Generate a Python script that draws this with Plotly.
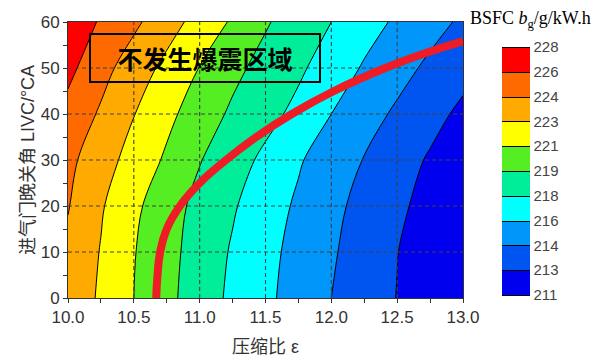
import numpy as np
import plotly.graph_objects as go

# ---------------- data ----------------
compression_ratio = [10.0, 10.25, 10.5, 10.75, 11.0, 11.25, 11.5, 11.75, 12.0, 12.25, 12.5, 12.75, 13.0]
livc_deg = [0, 10, 20, 30, 40, 50, 60]
bsfc_grid = [
    [223.7, 222.7, 221.0, 219.5, 218.5, 217.6, 216.4, 215.2, 214.0, 213.5, 212.95, 211.9, 211.1],
    [223.8, 222.9, 221.1, 219.6, 218.6, 217.8, 216.55, 215.4, 214.2, 213.6, 213.02, 212.0, 211.1],
    [224.1, 223.1, 221.4, 219.9, 218.7, 218.1, 216.9, 215.7, 214.5, 213.7, 213.2, 212.3, 211.3],
    [224.5, 223.4, 222.3, 220.7, 219.1, 218.4, 217.6, 216.2, 215.0, 213.96, 213.4, 212.8, 211.8],
    [225.4, 223.87, 223.03, 221.5, 220.0, 218.84, 218.3, 217.5, 216.0, 214.8, 213.84, 213.3, 212.6],
    [226.5, 224.7, 223.5, 222.5, 220.94, 219.5, 218.67, 218.16, 217.1, 215.8, 214.7, 213.8, 213.3],
    [227.3, 225.8, 224.4, 223.4, 222.3, 220.75, 219.2, 218.5, 218.0, 216.8, 215.7, 214.7, 213.84],
]
bsfc_levels = [211, 213, 214, 216, 218, 219, 221, 223, 224, 226, 228]
band_colors = ["#0000EE", "#0055F0", "#0096FA", "#00FFFF", "#00EE99",
               "#55EE22", "#FFFF00", "#FFAA00", "#FF6A00", "#FF0000"]

knock_cr = [10.67, 10.68, 10.70, 10.75, 10.85, 11.0, 11.20, 11.43, 11.70, 12.02, 12.41, 12.75, 13.0]
knock_livc = [0, 5, 10, 15, 20, 25, 30, 35, 40, 45, 50, 53.6, 55.8]

x_ticks = [10.0, 10.5, 11.0, 11.5, 12.0, 12.5, 13.0]
y_ticks = [0, 10, 20, 30, 40, 50, 60]

# ---------------- figure ----------------
level_idx = np.arange(len(bsfc_levels))
z_idx = np.interp(np.array(bsfc_grid), bsfc_levels, level_idx)

n = len(band_colors)
colorscale = []
for i, c in enumerate(band_colors):
    colorscale.append([i / n, c])
    colorscale.append([(i + 1) / n, c])

font_latin = "Liberation Sans, Arial, Noto Sans CJK SC"
txt = "#333333"

fig = go.Figure()
fig.add_trace(go.Contour(
    x=compression_ratio, y=livc_deg, z=z_idx,
    zmin=0, zmax=n, colorscale=colorscale,
    contours=dict(start=0, end=n, size=1, coloring="fill", showlines=True),
    line=dict(color="black", width=1, smoothing=1),
    hoverinfo="skip",
    colorbar=dict(
        x=1.0987, xanchor="left", xpad=0, y=0.46, yanchor="middle", ypad=0,
        len=0.899, lenmode="fraction", thickness=28,
        outlinewidth=0, ticks="",
        tickvals=list(level_idx), ticktext=[str(v) for v in bsfc_levels],
        tickfont=dict(family=font_latin, size=15, color="#444444"),
    ),
))

# dashed grid lines drawn above the filled contours
gx, gy = [], []
for xv in x_ticks[1:-1]:
    gx += [xv, xv, None]
    gy += [y_ticks[0], y_ticks[-1], None]
hx, hy = [], []
for yv in y_ticks[1:-1]:
    hx += [x_ticks[0], x_ticks[-1], None]
    hy += [yv, yv, None]
grid_style = dict(color="#404040", width=1.1, dash="4px,3px")
fig.add_trace(go.Scatter(x=gx, y=gy, mode="lines", line=grid_style, hoverinfo="skip",
                         connectgaps=False))
fig.add_trace(go.Scatter(x=hx, y=hy, mode="lines", line=grid_style, hoverinfo="skip",
                         connectgaps=False))

# knock boundary
fig.add_trace(go.Scatter(
    x=knock_cr, y=knock_livc, mode="lines",
    line=dict(color="#EE1C25", width=8, shape="spline", smoothing=1.3),
    hoverinfo="skip",
))

fig.add_annotation(
    x=0.347, y=0.870, xref="paper", yref="paper", xanchor="center", yanchor="middle",
    text="<b>不发生爆震区域</b>", showarrow=False,
    font=dict(family="Noto Sans CJK SC", size=25, color="black"),
    width=228, height=46, borderpad=0,
    bordercolor="black", borderwidth=2, bgcolor="rgba(0,0,0,0)",
)
fig.add_annotation(
    x=1.17, y=1.008, xref="paper", yref="paper", xanchor="center", yanchor="middle",
    text="BSFC <i>b</i><sub>g</sub>/g/kW.h", showarrow=False,
    font=dict(family="Liberation Serif, Times New Roman", size=18, color="black"),
)

axis_common = dict(
    showline=True, linecolor="#333333", linewidth=1, mirror=True,
    showgrid=False, zeroline=False, automargin=False,
    ticks="outside", ticklen=4, tickcolor="#333333",
    tickfont=dict(family=font_latin, size=17, color=txt),
)
fig.update_xaxes(
    range=[x_ticks[0], x_ticks[-1]], tickvals=x_ticks, tickformat=".1f",
    minor=dict(dtick=0.25, ticks="outside", ticklen=4, tickcolor="#333333"),
    title=dict(text="压缩比 ε", font=dict(family=font_latin, size=18, color=txt), standoff=13),
    **axis_common,
)
fig.update_yaxes(
    range=[y_ticks[0], y_ticks[-1]], tickvals=y_ticks,
    minor=dict(dtick=5, ticks="outside", ticklen=4, tickcolor="#333333"),
    title=dict(text="进气门晚关角 LIVC/°CA", font=dict(family=font_latin, size=18, color=txt), standoff=1),
    **axis_common,
)
# the page body adds an 8 px margin, so the figure is sized to the remaining window
fig.update_layout(
    width=604, height=352,
    margin=dict(l=60, r=149, t=14, b=62, autoexpand=False),
    paper_bgcolor="white", plot_bgcolor="white",
    showlegend=False,
)
fig.write_html("out.html")
